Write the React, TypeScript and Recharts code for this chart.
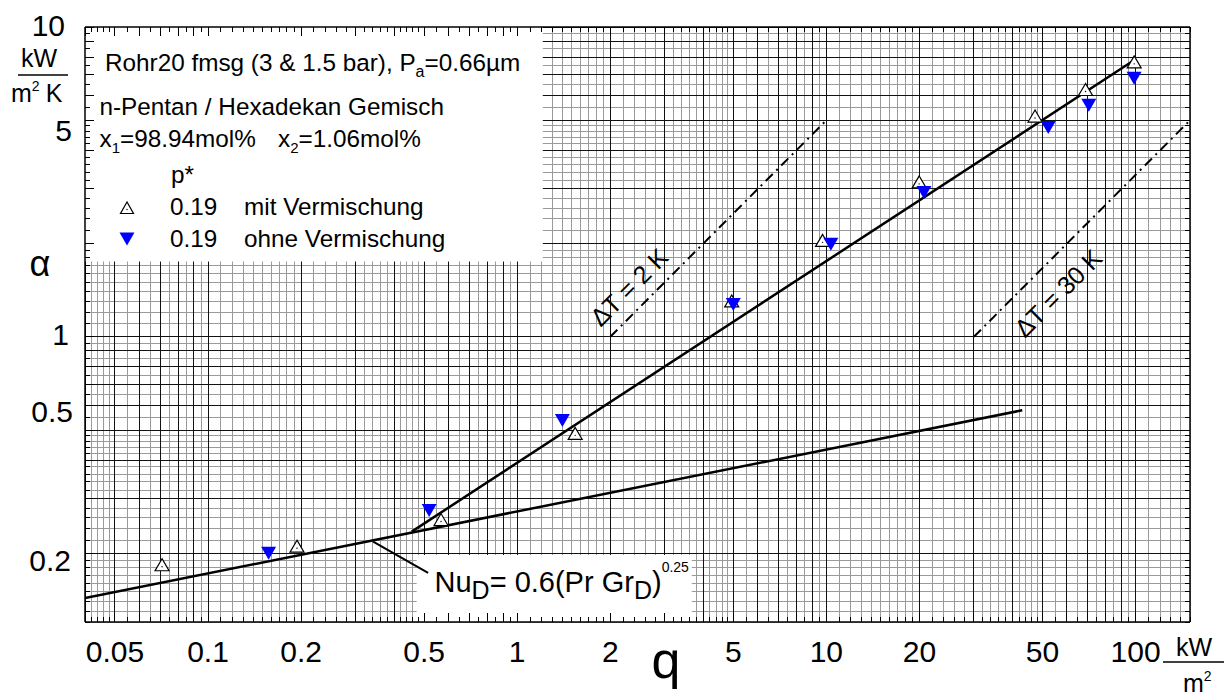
import React from 'react';
import { ComposedChart, XAxis, YAxis, Line, Scatter, ReferenceLine, ReferenceArea } from 'recharts';

const W = 1225;
const H = 698;
const FONT = '"Liberation Sans", Arial, Helvetica, sans-serif';

// ---- measured data (q in kW/m², alpha in kW/m²K) ----
const mitQ = [0.071, 0.194, 0.567, 1.54, 4.94, 9.72, 19.96, 47.3, 68.9, 99.0];
const mitAlpha = [0.183, 0.21, 0.256, 0.486, 1.3, 2.04, 3.15, 5.14, 6.26, 7.69];
const ohneQ = [0.157, 0.519, 1.4, 5.0, 10.34, 20.68, 52.2, 70.6, 98.9];
const ohneAlpha = [0.2, 0.275, 0.537, 1.27, 1.99, 2.92, 4.74, 5.59, 6.83];

// ---- correlation / reference lines ----
const boilQ = [0.456, 98.3];
const boilAlpha = [0.235, 7.78];
const nuQ = [0.04, 43];
const nuAlpha = [0.1434, 0.579];
const pointerQ = [0.342, 0.515];
const pointerAlpha = [0.218, 0.173];
const dt2Q = [2, 9.9];
const dt2Alpha = [1, 4.95];
const dt30Q = [30, 148];
const dt30Alpha = [1, 4.93];

// ---- axes ----
const X_DOMAIN: [number, number] = [0.04, 150];
const Y_DOMAIN: [number, number] = [0.12, 10];
const xTickLabels = [0.05, 0.1, 0.2, 0.5, 1, 2, 5, 10, 20, 50, 100];
const yTickLabels = [0.2, 0.5, 1, 5, 10];
const majorMult = [1, 2, 3, 4, 5, 6, 7, 8, 9];
const minorMult = [1.1, 1.2, 1.3, 1.4, 1.5, 1.6, 1.7, 1.8, 1.9, 2.2, 2.4, 2.6, 2.8, 3.2, 3.4, 3.6, 3.8, 4.2, 4.4, 4.6, 4.8, 5.5, 6.5, 7.5, 8.5, 9.5];

function gridValues(mult: number[], dom: [number, number]) {
  const out: number[] = [];
  for (let e = -3; e <= 3; e++) {
    for (const m of mult) {
      const v = Number((m * Math.pow(10, e)).toPrecision(6));
      if (v >= dom[0] * 0.9999 && v <= dom[1] * 1.0001) out.push(v);
    }
  }
  return out;
}

const xMajor = gridValues(majorMult, X_DOMAIN);
const xMinor = gridValues(minorMult, X_DOMAIN);
const yMajor = gridValues(majorMult, Y_DOMAIN);
const yMinor = gridValues(minorMult, Y_DOMAIN);

// tick-mark lengths expressed as factors on the log axes (≈9 px and ≈5 px)
const X_PX_PER_DECADE = 1105 / Math.log10(X_DOMAIN[1] / X_DOMAIN[0]);
const Y_PX_PER_DECADE = 595 / Math.log10(Y_DOMAIN[1] / Y_DOMAIN[0]);
const fx = (px: number) => Math.pow(10, px / X_PX_PER_DECADE);
const fy = (px: number) => Math.pow(10, px / Y_PX_PER_DECADE);

const pts = (qs: number[], as: number[]) => qs.map((q, i) => ({ q, a: as[i] }));

// label fine placement (dx, dy) as in original
const yLabelShift: Record<string, [number, number]> = {
  '10': [-6, -2],
  '5': [1, 10],
  '1': [-2, -2],
  '0.5': [2, -19],
  '0.2': [0, 7],
};

const GRID_GRAY = '#9a9a9a';
const GRID_BLACK = '#111';

const XLabelTick = (props: any) => {
  const { x, y, payload } = props;
  return (
    <text x={x} y={y + 40} textAnchor="middle" fontSize={30} fontFamily={FONT} fill="#000">
      {String(payload.value)}
    </text>
  );
};

const YLabelTick = (props: any) => {
  const { x, y, payload } = props;
  const s = yLabelShift[String(payload.value)] || [0, 0];
  return (
    <text x={x - 14 + s[0]} y={y + 10.5 + s[1]} textAnchor="end" fontSize={30} fontFamily={FONT} fill="#000">
      {String(payload.value)}
    </text>
  );
};

const OpenTri = (props: any) => {
  const { cx, cy } = props;
  if (cx == null || cy == null) return <g />;
  return (
    <g>
      <polygon
        points={`${cx},${cy - 6.5} ${cx - 7},${cy + 5.5} ${cx + 7},${cy + 5.5}`}
        fill="#fff"
        stroke="#000"
        strokeWidth={1.2}
      />
      <circle cx={cx} cy={cy + 1.5} r={0.7} fill="#000" />
    </g>
  );
};

const BlueTri = (props: any) => {
  const { cx, cy } = props;
  if (cx == null || cy == null) return <g />;
  return <polygon points={`${cx - 7.5},${cy - 6.5} ${cx + 7.5},${cy - 6.5} ${cx},${cy + 6.5}`} fill="#0000ff" />;
};

const axisCommonX = {
  type: 'number' as const,
  scale: 'log' as const,
  domain: X_DOMAIN,
  allowDataOverflow: true,
};
const axisCommonY = {
  type: 'number' as const,
  scale: 'log' as const,
  domain: Y_DOMAIN,
  allowDataOverflow: true,
};

function tickSegments() {
  const out: React.ReactNode[] = [];
  const [x0, x1] = X_DOMAIN;
  const [y0, y1] = Y_DOMAIN;
  const addX = (v: number, len: number, key: string) => {
    out.push(
      <ReferenceLine key={'tb' + key} xAxisId="m" yAxisId="m" segment={[{ x: v, y: y0 }, { x: v, y: y0 * fy(len) }]}
        stroke="#000" strokeWidth={1} shapeRendering="crispEdges" ifOverflow="visible" zIndex={40} />
    );
    out.push(
      <ReferenceLine key={'tt' + key} xAxisId="m" yAxisId="m" segment={[{ x: v, y: y1 }, { x: v, y: y1 / fy(len) }]}
        stroke="#000" strokeWidth={1} shapeRendering="crispEdges" ifOverflow="visible" zIndex={40} />
    );
  };
  const addY = (v: number, len: number, key: string) => {
    out.push(
      <ReferenceLine key={'tl' + key} xAxisId="m" yAxisId="m" segment={[{ x: x0, y: v }, { x: x0 * fx(len), y: v }]}
        stroke="#000" strokeWidth={1} shapeRendering="crispEdges" ifOverflow="visible" zIndex={40} />
    );
    out.push(
      <ReferenceLine key={'tr' + key} xAxisId="m" yAxisId="m" segment={[{ x: x1, y: v }, { x: x1 / fx(len), y: v }]}
        stroke="#000" strokeWidth={1} shapeRendering="crispEdges" ifOverflow="visible" zIndex={40} />
    );
  };
  xMajor.forEach((v) => addX(v, 9, 'M' + v));
  xMinor.forEach((v) => addX(v, 5, 'm' + v));
  yMajor.forEach((v) => addY(v, 9, 'M' + v));
  yMinor.forEach((v) => addY(v, 5, 'm' + v));
  return out;
}

export default function App() {
  return (
    <div style={{ position: 'absolute', left: 0, top: 0, width: W, height: H, background: '#fff', fontFamily: FONT }}>
      <ComposedChart
        width={W}
        height={H}
        margin={{ top: 27, right: 35, bottom: 0, left: 0 }}
        style={{ position: 'absolute', left: 0, top: 0 }}
      >
        {xMinor.map((v) => (
          <ReferenceLine key={'xg' + v} xAxisId="m" yAxisId="m" x={v} stroke={GRID_GRAY} strokeWidth={1} shapeRendering="crispEdges" ifOverflow="visible" zIndex={10} />
        ))}
        {yMinor.map((v) => (
          <ReferenceLine key={'yg' + v} xAxisId="m" yAxisId="m" y={v} stroke={GRID_GRAY} strokeWidth={1} shapeRendering="crispEdges" ifOverflow="visible" zIndex={10} />
        ))}
        {xMajor.map((v) => (
          <ReferenceLine key={'xb' + v} xAxisId="m" yAxisId="m" x={v} stroke={GRID_BLACK} strokeWidth={1} shapeRendering="crispEdges" ifOverflow="visible" zIndex={20} />
        ))}
        {yMajor.map((v) => (
          <ReferenceLine key={'yb' + v} xAxisId="m" yAxisId="m" y={v} stroke={GRID_BLACK} strokeWidth={1} shapeRendering="crispEdges" ifOverflow="visible" zIndex={20} />
        ))}

        <ReferenceArea xAxisId="m" yAxisId="m" x1={0.04} x2={1.21} y1={1.75} y2={10} fill="#fff" fillOpacity={1} stroke="none" ifOverflow="visible" zIndex={30} />
        <ReferenceArea xAxisId="m" yAxisId="m" x1={0.473} x2={3.67} y1={0.12} y2={0.1975} fill="#fff" fillOpacity={1} stroke="none" ifOverflow="visible" zIndex={30} />

        {tickSegments()}

        <ReferenceLine xAxisId="m" yAxisId="m" x={X_DOMAIN[1]} stroke="#000" strokeWidth={1.5} ifOverflow="visible" zIndex={45} />
        <ReferenceLine xAxisId="m" yAxisId="m" y={Y_DOMAIN[1]} stroke="#000" strokeWidth={1.5} ifOverflow="visible" zIndex={45} />

        <Line xAxisId="m" yAxisId="m" data={pts(nuQ, nuAlpha)} dataKey="a" type="linear" stroke="#000" strokeWidth={2.5} dot={false} activeDot={false} isAnimationActive={false} legendType="none" />
        <Line xAxisId="m" yAxisId="m" data={pts(boilQ, boilAlpha)} dataKey="a" type="linear" stroke="#000" strokeWidth={2.5} dot={false} activeDot={false} isAnimationActive={false} legendType="none" />
        <Line xAxisId="m" yAxisId="m" data={pts(pointerQ, pointerAlpha)} dataKey="a" type="linear" stroke="#000" strokeWidth={2} dot={false} activeDot={false} isAnimationActive={false} legendType="none" />
        <Line xAxisId="m" yAxisId="m" data={pts(dt2Q, dt2Alpha)} dataKey="a" type="linear" stroke="#000" strokeWidth={2} strokeDasharray="10 5 2 5" dot={false} activeDot={false} isAnimationActive={false} legendType="none" />
        <Line xAxisId="m" yAxisId="m" data={pts(dt30Q, dt30Alpha)} dataKey="a" type="linear" stroke="#000" strokeWidth={2} strokeDasharray="10 5 2 5" dot={false} activeDot={false} isAnimationActive={false} legendType="none" />

        <Scatter xAxisId="m" yAxisId="m" data={pts(mitQ, mitAlpha)} dataKey="a" shape={OpenTri} isAnimationActive={false} legendType="none" />
        <Scatter xAxisId="m" yAxisId="m" data={pts(ohneQ, ohneAlpha)} dataKey="a" shape={BlueTri} isAnimationActive={false} legendType="none" />

        <XAxis xAxisId="m" dataKey="q" orientation="bottom" height={76} {...axisCommonX} ticks={xTickLabels} interval={0}
          tickLine={false} tickSize={0} tickMargin={0} axisLine={{ stroke: '#000', strokeWidth: 1.5 }} tick={XLabelTick} />
        <YAxis yAxisId="m" dataKey="a" orientation="left" width={85} {...axisCommonY} ticks={yTickLabels} interval={0}
          tickLine={false} tickSize={0} tickMargin={0} axisLine={{ stroke: '#000', strokeWidth: 1.5 }} tick={YLabelTick} />
      </ComposedChart>

      <svg width={W} height={H} style={{ position: 'absolute', left: 0, top: 0, pointerEvents: 'none' }} fontFamily={FONT} fill="#000">
        {/* y unit */}
        <text x={39} y={67} fontSize={25} textAnchor="middle">kW</text>
        <line x1={18} x2={68} y1={75} y2={75} stroke="#000" strokeWidth={1.5} />
        <text x={11} y={102} fontSize={25}>
          m<tspan fontSize={14} dy={-11}>2</tspan><tspan dy={11} dx={6}>K</tspan>
        </text>
        <text x={40} y={276} fontSize={36} textAnchor="middle">α</text>

        {/* x unit */}
        <text x={1194} y={656} fontSize={25} textAnchor="middle">kW</text>
        <line x1={1163} x2={1224} y1={662} y2={662} stroke="#000" strokeWidth={1.5} />
        <text x={1183} y={692} fontSize={25}>
          m<tspan fontSize={14} dy={-11}>2</tspan>
        </text>
        <text x={666} y={678} fontSize={52} textAnchor="middle">q</text>

        {/* info / legend box */}
        <text x={105} y={71} fontSize={24.3}>
          {'Rohr20 fmsg (3 & 1.5 bar), P'}<tspan fontSize={16} dy={6}>a</tspan><tspan dy={-6}>=0.66µm</tspan>
        </text>
        <text x={99.5} y={115} fontSize={24.3}>n-Pentan / Hexadekan Gemisch</text>
        <text x={99.5} y={147} fontSize={24.3}>
          x<tspan fontSize={15} dy={6}>1</tspan><tspan dy={-6}>=98.94mol%</tspan>
        </text>
        <text x={278} y={147} fontSize={24.3}>
          x<tspan fontSize={15} dy={6}>2</tspan><tspan dy={-6}>=1.06mol%</tspan>
        </text>
        <text x={171} y={183} fontSize={24.3}>p*</text>
        <polygon points="127,202 120.5,213.5 133.5,213.5" fill="#fff" stroke="#000" strokeWidth={1.2} />
        <circle cx={127} cy={209.5} r={0.7} fill="#000" />
        <text x={170} y={215} fontSize={24.3}>0.19</text>
        <text x={244} y={215} fontSize={24.3}>mit Vermischung</text>
        <polygon points="119.5,232.5 134.5,232.5 127,245.5" fill="#0000ff" />
        <text x={170} y={247} fontSize={24.3}>0.19</text>
        <text x={244} y={247} fontSize={24.3}>ohne Vermischung</text>

        {/* Nu correlation label */}
        <text x={434.5} y={592} fontSize={29}>
          Nu<tspan fontSize={25} dy={7}>D</tspan><tspan dy={-7}>= 0.6(Pr Gr</tspan><tspan fontSize={25} dy={7}>D</tspan><tspan dy={-7}>)</tspan><tspan fontSize={14} dy={-20}>0.25</tspan>
        </text>

        {/* delta T labels */}
        <text x={629} y={287} fontSize={25} textAnchor="middle" dominantBaseline="central" transform="rotate(-45 629 287)">ΔT = 2 K</text>
        <text x={1058} y={293} fontSize={25} textAnchor="middle" dominantBaseline="central" transform="rotate(-45 1058 293)">ΔT = 30 K</text>
      </svg>
    </div>
  );
}
